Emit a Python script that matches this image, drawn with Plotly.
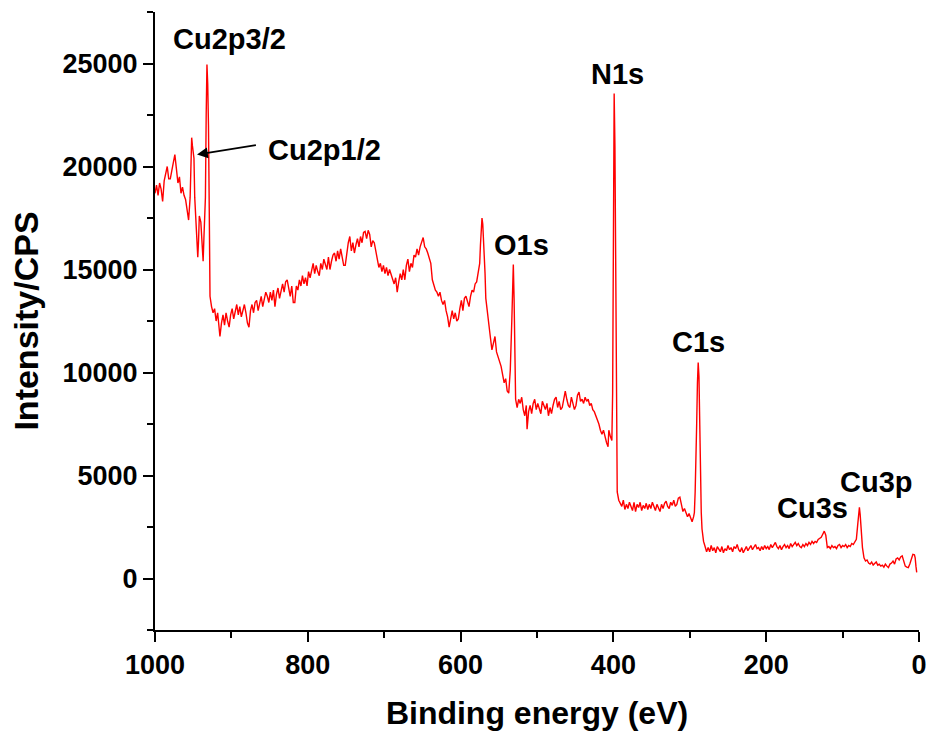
import plotly.graph_objects as go

# Binding energy (eV) and intensity (CPS)
energy = [
    1000, 998, 996, 994, 992, 990, 988, 986, 984, 982, 980, 978, 976, 974, 972, 970, 968, 966, 964, 962,
    960, 958, 956, 954, 953, 952, 951, 949, 948, 946, 944, 943, 942, 940, 939, 937, 936, 935, 934, 933,
    932, 931, 930, 929, 928, 926, 924, 922, 920, 918, 916, 915, 913, 911, 909, 907, 905, 903, 901, 899,
    897, 895, 893, 891, 889, 887, 885, 883, 881, 879, 877, 875, 873, 871, 869, 867, 865, 863, 861, 859,
    857, 855, 853, 851, 849, 847, 845, 843, 841, 839, 837, 835, 833, 831, 829, 827, 825, 823, 821, 819,
    817, 815, 813, 811, 809, 807, 805, 803, 801, 799, 797, 795, 793, 791, 789, 787, 785, 783, 781, 779,
    777, 775, 773, 771, 769, 767, 765, 763, 761, 759, 757, 755, 753, 751, 749, 747, 745, 743, 741, 739,
    737, 735, 733, 731, 729, 727, 725, 723, 721, 719, 717, 715, 713, 711, 709, 707, 705, 703, 701, 699,
    697, 695, 693, 691, 689, 687, 685, 683, 681, 679, 677, 675, 673, 671, 669, 667, 665, 663, 661, 659,
    657, 655, 653, 651, 649, 647, 645, 643, 641, 639, 637, 635, 633, 631, 629, 627, 625, 623, 621, 619,
    617, 615, 613, 611, 609, 607, 605, 603, 601, 599, 597, 595, 593, 591, 589, 587, 585, 583, 581, 579,
    577, 575, 574, 573, 572, 571, 570, 569, 568, 567, 565, 563, 561, 559, 557, 555, 553, 551, 549, 547,
    545, 543, 541, 539, 537, 535, 533, 532, 531, 530, 529, 528, 526, 524, 522, 520, 518, 516, 514, 513,
    511, 509, 507, 505, 503, 501, 499, 497, 495, 493, 491, 489, 487, 485, 483, 481, 479, 477, 475, 473,
    471, 469, 467, 465, 463, 461, 459, 457, 455, 453, 451, 449, 447, 445, 443, 441, 439, 437, 435, 433,
    431, 429, 427, 425, 423, 421, 419, 417, 415, 413, 411, 409, 407, 406, 404, 402, 401, 400, 399, 398,
    397, 396, 395, 393, 391, 389, 387, 385, 383, 381, 379, 377, 375, 373, 371, 369, 367, 365, 363, 361,
    359, 357, 355, 353, 351, 349, 347, 345, 343, 341, 339, 337, 335, 333, 331, 329, 327, 325, 323, 321,
    319, 317, 315, 313, 311, 309, 307, 305, 303, 301, 299, 297, 295, 294, 293, 292, 291, 290, 289, 288,
    287, 286, 285, 284, 282, 280, 278, 276, 274, 272, 270, 268, 266, 264, 262, 260, 258, 256, 254, 252,
    250, 248, 246, 244, 242, 240, 238, 236, 234, 232, 230, 228, 226, 224, 222, 220, 218, 216, 214, 212,
    210, 208, 206, 204, 202, 200, 198, 196, 194, 192, 190, 188, 186, 184, 182, 180, 178, 176, 174, 172,
    170, 168, 166, 164, 162, 160, 158, 156, 154, 152, 150, 148, 146, 144, 142, 140, 138, 136, 134, 132,
    130, 128, 126, 124, 122, 121, 120, 118, 116, 114, 112, 110, 108, 106, 104, 102, 100, 98, 96, 94,
    92, 90, 88, 86, 84, 82, 80, 79, 78, 77, 76, 75, 74, 72, 70, 68, 66, 64, 62, 60,
    58, 56, 54, 52, 50, 48, 46, 44, 42, 40, 38, 36, 34, 32, 30, 28, 26, 24, 22, 20,
    18, 16, 14, 12, 10, 8, 6, 5, 4, 3,
]

intensity = [
    18700, 19100, 18600, 19200, 18900, 18300, 19300, 19700, 20000, 19400, 19400, 19800, 20300, 20580, 19900, 19200, 19500, 18700, 19000, 18600,
    18400, 17900, 17400, 18500, 20800, 21400, 21000, 20400, 18500, 16600, 15600, 16400, 17600, 17300, 16800, 15400, 16500, 17300, 18500, 22500,
    24950, 24000, 22000, 18000, 13700, 13200, 12900, 13100, 12500, 12900, 12100, 11750, 12400, 12800, 12300, 12900, 12500, 12200, 12800, 13100,
    12600, 12900, 13300, 12800, 13200, 12700, 13000, 13300, 12900, 12400, 12200, 13000, 13300, 12900, 13400, 13500, 13000, 13400, 13700, 13200,
    13600, 13900, 13700, 13400, 13900, 13500, 14000, 13200, 13800, 14100, 13600, 14000, 14300, 13900, 14400, 14500, 14000, 13700, 14200, 13400,
    13400, 14200, 14000, 14500, 14200, 14700, 14300, 14600, 14200, 14900, 14600, 15000, 15300, 14800, 15200, 14900, 14700, 15300, 15000, 15500,
    15300, 15000, 15600, 15000, 15400, 15700, 15800, 15400, 15900, 15500, 16000, 15600, 15200, 15200, 15900, 16300, 16600, 15900, 16300, 15800,
    16200, 16500, 16100, 16600, 16300, 16800, 16850, 16500, 16900, 16700, 16100, 16400, 16300, 15900, 15500, 15100, 15300, 14900, 15200, 14800,
    15100, 14700, 15000, 14800, 14500, 14300, 14600, 13900, 14400, 14800, 14500, 15000, 14500, 15200, 15500, 14900, 15300, 15100, 15700, 15600,
    16000, 15700, 16100, 16300, 16550, 16100, 16000, 15800, 15500, 15300, 14500, 14200, 14000, 13900, 13700, 13900, 13500, 13300, 13500, 13000,
    12700, 12200, 12600, 13000, 12600, 12900, 12500, 12600, 13100, 13500, 13000, 13600, 13700, 13400, 13200, 13700, 14000, 13900, 14300, 14400,
    14800, 15300, 16200, 17000, 17500, 17200, 16500, 15500, 14800, 13600, 12900, 12100, 11700, 11100, 11500, 11750, 11000, 10800, 10500, 10300,
    9900, 9500, 9700, 9100, 9000, 10100, 12500, 14500, 15240, 13600, 11000, 8700, 8300, 8700, 8500, 8800, 8200, 7900, 8400, 7250,
    8100, 8400, 8000, 8500, 8700, 8200, 8500, 8300, 8000, 8600, 8400, 8200, 8500, 7900, 8300, 8000, 8400, 8700, 8800, 8300,
    8600, 8200, 8300, 8700, 9100, 8700, 8400, 8300, 8800, 8500, 8200, 8400, 8900, 9050, 8600, 8700, 8500, 8800, 8600, 8700,
    8400, 8500, 8200, 8100, 7900, 7800, 7500, 7200, 7000, 7200, 6800, 6600, 6400, 7200, 6900, 6700, 9000, 16000, 23540, 21000,
    13500, 7000, 4200, 3800, 3650, 3500, 3800, 3350, 3600, 3400, 3700, 3500, 3300, 3700, 3250, 3600, 3450, 3700, 3300, 3550,
    3400, 3650, 3350, 3600, 3400, 3700, 3500, 3300, 3600, 3450, 3250, 3600, 3400, 3650, 3750, 3500, 3400, 3700, 3550, 3800,
    3500, 3600, 3900, 3950, 3500, 3250, 3400, 3200, 3000, 3150, 2900, 2750, 3000, 3200, 4200, 5300, 7500, 9500, 10480, 9800,
    7000, 4500, 3200, 2400, 1800, 1550, 1300, 1500, 1300, 1600, 1350, 1500, 1250, 1550, 1400, 1300, 1550, 1250, 1450, 1350,
    1600, 1400, 1500, 1300, 1550, 1450, 1650, 1400, 1300, 1500, 1250, 1450, 1550, 1350, 1500, 1600, 1400, 1550, 1650, 1450,
    1500, 1350, 1550, 1400, 1600, 1450, 1550, 1400, 1650, 1500, 1600, 1750, 1550, 1450, 1600, 1400, 1550, 1650, 1500, 1600,
    1450, 1700, 1550, 1650, 1750, 1600, 1700, 1550, 1500, 1650, 1550, 1700, 1600, 1750, 1650, 1800, 1700, 1800, 1750, 1900,
    1950, 2000, 2150, 2300, 2100, 1700, 1500, 1550, 1450, 1600, 1500, 1550, 1450, 1600, 1650, 1500, 1600, 1550, 1650, 1500,
    1600, 1550, 1700, 1650, 1750, 1900, 2700, 3400, 3450, 3100, 2500, 2000, 1500, 1000, 850, 900, 750, 700, 800, 650,
    750, 800, 650, 700, 600, 650, 550, 700, 600, 530, 700, 750, 850, 700, 950, 1000, 900, 1050, 1100, 800,
    600, 550, 530, 700, 900, 1170, 1150, 1000, 600, 300,
]

# Peak labels: text, x (eV), y (CPS)
peak_labels = ["Cu2p3/2", "N1s", "O1s", "C1s", "Cu3s", "Cu3p"]
peak_label_x = [903, 395, 520, 289, 139, 55]
peak_label_y = [26200, 24500, 16200, 11500, 3400, 4700]

y_ticks = [0, 5000, 10000, 15000, 20000, 25000]
x_ticks = [1000, 800, 600, 400, 200, 0]

FONT = "Liberation Sans, Arial, sans-serif"

fig = go.Figure()
fig.add_trace(go.Scatter(
    x=energy, y=intensity, mode="lines",
    line=dict(color="#ff0000", width=1.4),
    showlegend=False, hoverinfo="skip", cliponaxis=False,
))

for t, xv, yv in zip(peak_labels, peak_label_x, peak_label_y):
    fig.add_annotation(x=xv, y=yv, text=t, showarrow=False,
                       font=dict(family=FONT, size=29, color="black", weight="bold"))

# Cu2p1/2 label with arrow
fig.add_annotation(x=778, y=20800, text="Cu2p1/2", showarrow=False,
                   font=dict(family=FONT, size=29, color="black", weight="bold"))
fig.add_annotation(x=945, y=20580, ax=866, ay=21050, axref="x", ayref="y",
                   xref="x", yref="y", text="", showarrow=True,
                   arrowhead=2, arrowsize=1.2, arrowwidth=1.8, arrowcolor="black")

fig.update_layout(
    width=928, height=731,
    margin=dict(l=155, r=9, t=12, b=101, autoexpand=False),
    paper_bgcolor="white", plot_bgcolor="white",
    font=dict(family=FONT, color="black"),
)

fig.update_xaxes(
    range=[1000, 0], tickvals=x_ticks, ticktext=[str(v) for v in x_ticks],
    automargin=False,
    showgrid=False, zeroline=False, showline=True, linecolor="black", linewidth=2,
    ticks="outside", ticklen=10, tickwidth=2, tickcolor="black",
    minor=dict(dtick=100, ticks="outside", ticklen=6, tickwidth=2, tickcolor="black", showgrid=False),
    tickfont=dict(family=FONT, size=27, color="black", weight="bold"),
    title=dict(text="Binding energy (eV)", font=dict(family=FONT, size=32, color="black", weight="bold"), standoff=22),
)
fig.update_yaxes(
    range=[-2500, 27500], tickvals=y_ticks, ticktext=[str(v) for v in y_ticks],
    automargin=False,
    showgrid=False, zeroline=False, showline=True, linecolor="black", linewidth=2,
    ticks="outside", ticklen=10, tickwidth=2, tickcolor="black",
    minor=dict(dtick=2500, ticks="outside", ticklen=6, tickwidth=2, tickcolor="black", showgrid=False),
    tickfont=dict(family=FONT, size=27, color="black", weight="bold"),
    title=dict(text="Intensity/CPS", font=dict(family=FONT, size=34, color="black", weight="bold"), standoff=14),
)

fig.write_html("out.html", config={"displayModeBar": False},
               post_script="document.body.style.margin='0';document.body.style.padding='0';")
